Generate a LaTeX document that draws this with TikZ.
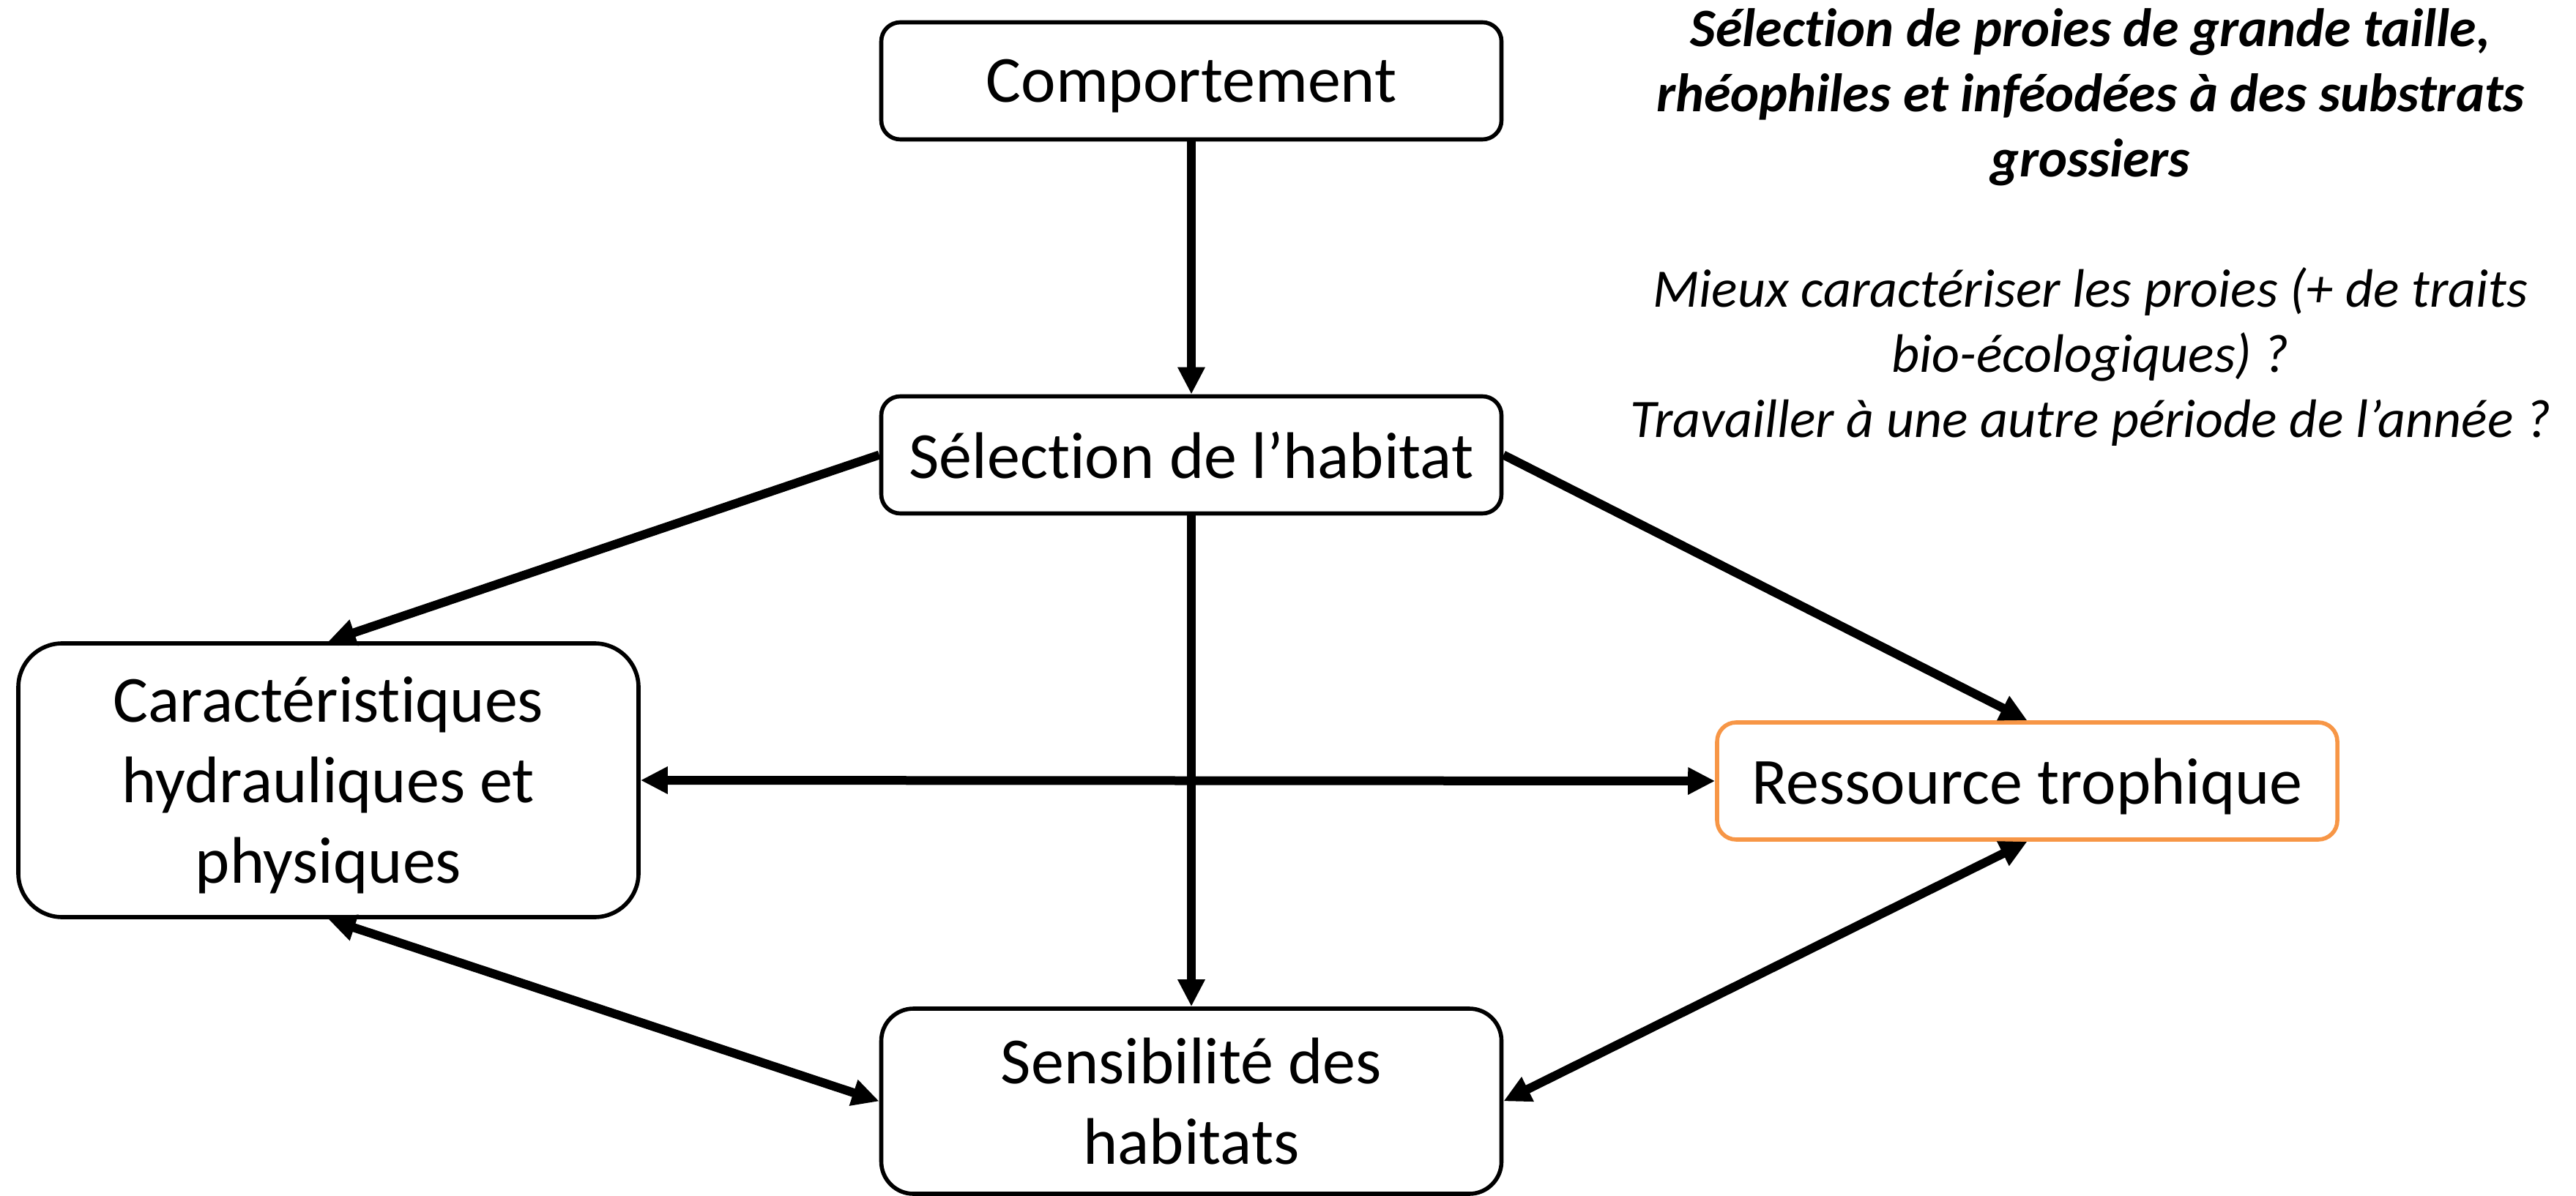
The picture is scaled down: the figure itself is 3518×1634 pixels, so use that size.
\documentclass[tikz,border=0pt]{standalone}
\usepackage{fontspec}
\setmainfont{Carlito}[Ligatures=NoCommon]
\usetikzlibrary{arrows.meta}
\definecolor{accentorange}{HTML}{F79646}
\begin{document}
\begin{tikzpicture}[x=0.25pt,y=-0.25pt,
  box/.style={draw, line width=1.4pt, fill=white, inner sep=0pt,
    minimum width=211.75pt, align=center, text depth=0pt,
    font=\fontsize{22.5}{27.5}\selectfont},
  onerow/.style={box, minimum height=40pt, rounded corners=6.5pt},
  tworow/.style={box, minimum height=63.25pt, rounded corners=11pt},
  threerow/.style={box, minimum height=93.5pt, rounded corners=15pt},
  link/.style={line width=3pt, -{Triangle[width=8.75pt,length=9.25pt]}},
  twoway/.style={line width=3pt, {Triangle[width=8.75pt,length=9.25pt]}-{Triangle[width=8.75pt,length=9.25pt]}},
  note/.style={align=center, inner sep=0pt,
    font=\fontsize{18.5}{22.25}\selectfont\itshape}]
\useasboundingbox (0,0) rectangle (3518,1634);

% boxes
\node[onerow] (comp) at (1627,110.5) {Comportement};
\node[onerow] (sel) at (1627,621.5) {Sélection de l’habitat};
\node[threerow] (car) at (448.5,1066) {Caractéristiques\\hydrauliques et\\physiques};
\node[onerow, draw=accentorange] (res) at (2768.5,1067) {Ressource trophique};
\node[tworow] (sens) at (1627,1504.5) {Sensibilité des\\habitats};

% connectors
\draw[link] (comp.south) -- (sel.north);
\draw[link] (sel.west) -- (car.north);
\draw[link] (sel.east) -- (res.north);
\draw[link] (sel.south) -- (sens.north);
\draw[twoway] (car.east) -- (res.west);
\draw[twoway] (car.south) -- (sens.west);
\draw[twoway] (res.south) -- (sens.east);

% side notes (base anchor sits on the last line)
\node[note, anchor=base] (txt) at (2855,598)
  {\bfseries Sélection de proies de grande taille,\\
   \bfseries rhéophiles et inféodées à des substrats\\
   \bfseries grossiers\\[22.25pt]
   Mieux caractériser les proies (+ de traits\\
   bio-écologiques) ?\\
   Travailler à une autre période de l’année ?};
\end{tikzpicture}
\end{document}
